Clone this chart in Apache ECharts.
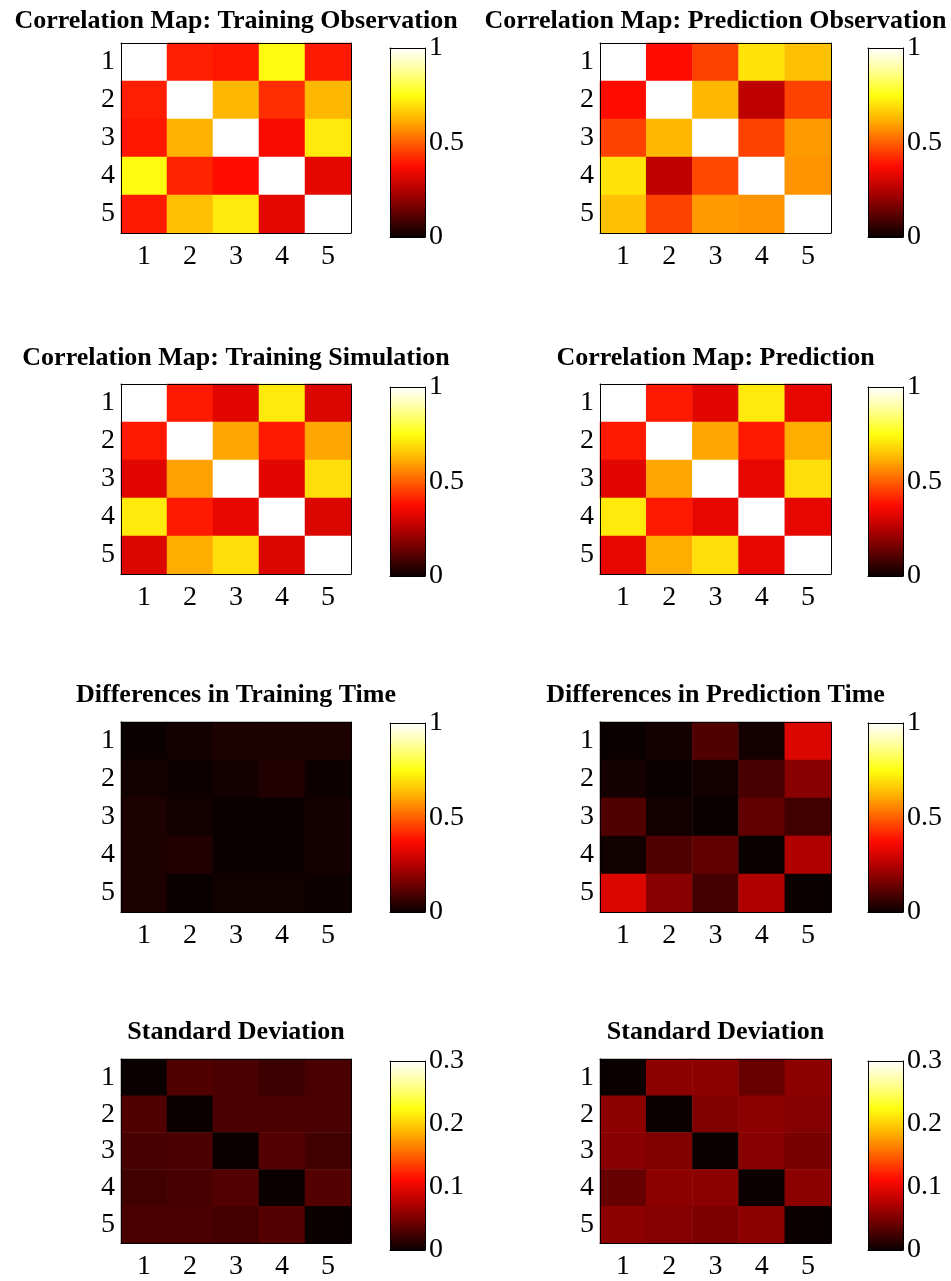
<!DOCTYPE html>
<html>
<head>
<meta charset="utf-8">
<script src="https://cdn.jsdelivr.net/npm/echarts@6/dist/echarts.min.js"></script>
<style>
  html, body { margin: 0; padding: 0; background: #ffffff; }
  #chart { width: 951px; height: 1281px; }
</style>
</head>
<body>
<div id="chart"></div>
<script>
// ---- data ----
const categories = ['1', '2', '3', '4', '5'];

const panelTitles = [
  'Correlation Map: Training Observation',
  'Correlation Map: Prediction Observation',
  'Correlation Map: Training Simulation',
  'Correlation Map: Prediction',
  'Differences in Training Time',
  'Differences in Prediction Time',
  'Standard Deviation',
  'Standard Deviation'
];

// colour-scale ranges and colorbar tick steps
const corrRange = [0, 1];
const corrTickStep = 0.5;
const stdRange = [0, 0.3];
const stdTickStep = 0.1;

// matrices, row = y label (top to bottom), column = x label
const trainObservation = [
  [1.000, 0.405, 0.390, 0.745, 0.395],
  [0.405, 1.000, 0.630, 0.425, 0.630],
  [0.390, 0.620, 1.000, 0.365, 0.715],
  [0.745, 0.410, 0.375, 1.000, 0.330],
  [0.395, 0.645, 0.715, 0.330, 1.000]
];
const predObservation = [
  [1.000, 0.375, 0.455, 0.705, 0.645],
  [0.375, 1.000, 0.630, 0.265, 0.455],
  [0.455, 0.630, 1.000, 0.455, 0.585],
  [0.705, 0.265, 0.465, 1.000, 0.575],
  [0.645, 0.455, 0.585, 0.575, 1.000]
];
const trainSimulation = [
  [1.000, 0.395, 0.325, 0.715, 0.315],
  [0.395, 1.000, 0.605, 0.395, 0.605],
  [0.325, 0.595, 1.000, 0.325, 0.695],
  [0.715, 0.395, 0.335, 1.000, 0.315],
  [0.315, 0.615, 0.695, 0.315, 1.000]
];
const predSimulation = [
  [1.000, 0.395, 0.325, 0.715, 0.335],
  [0.395, 1.000, 0.605, 0.395, 0.615],
  [0.325, 0.605, 1.000, 0.335, 0.695],
  [0.715, 0.395, 0.335, 1.000, 0.335],
  [0.335, 0.615, 0.695, 0.335, 1.000]
];
const diffTraining = [
  [0.000, 0.013, 0.027, 0.027, 0.027],
  [0.012, 0.002, 0.012, 0.031, 0.002],
  [0.026, 0.012, 0.000, 0.000, 0.013],
  [0.026, 0.031, 0.000, 0.000, 0.013],
  [0.026, 0.000, 0.009, 0.009, 0.002]
];
const diffPrediction = [
  [0.000, 0.013, 0.102, 0.013, 0.314],
  [0.013, 0.000, 0.010, 0.090, 0.184],
  [0.102, 0.010, 0.000, 0.125, 0.078],
  [0.008, 0.102, 0.125, 0.000, 0.243],
  [0.314, 0.184, 0.084, 0.243, 0.000]
];
const stdTraining = [
  [0.000, 0.031, 0.028, 0.022, 0.028],
  [0.031, 0.000, 0.028, 0.028, 0.028],
  [0.027, 0.028, 0.000, 0.032, 0.024],
  [0.024, 0.027, 0.032, 0.000, 0.032],
  [0.028, 0.028, 0.025, 0.032, 0.000]
];
const stdPrediction = [
  [0.000, 0.057, 0.057, 0.041, 0.057],
  [0.057, 0.000, 0.052, 0.057, 0.054],
  [0.055, 0.052, 0.000, 0.055, 0.048],
  [0.040, 0.057, 0.057, 0.000, 0.057],
  [0.057, 0.054, 0.050, 0.057, 0.000]
];

// ---- layout & style ----
const FONT = '"Liberation Serif", "Times New Roman", serif';
// "hot" colour map: black -> red -> yellow -> white
const hotColors = ['#0b0000', '#600000', '#b50000', '#ff0b00', '#ff6000',
                   '#ffb500', '#ffff10', '#ffff90', '#ffffff'];

const colLeft = [121, 600];
const plotW = [230, 231];
const rowTop = [43, 384, 722, 1059];
const plotH = 190;
const cbLeft = [390, 868];
const cbW = 35;
const cbTop = [48, 387, 723, 1061];
const cbH = 189;
const titleTop = [8, 345, 682, 1019];

const panels = [
  { m: trainObservation, range: corrRange, step: corrTickStep },
  { m: predObservation,  range: corrRange, step: corrTickStep },
  { m: trainSimulation,  range: corrRange, step: corrTickStep },
  { m: predSimulation,   range: corrRange, step: corrTickStep },
  { m: diffTraining,     range: corrRange, step: corrTickStep },
  { m: diffPrediction,   range: corrRange, step: corrTickStep },
  { m: stdTraining,      range: stdRange,  step: stdTickStep },
  { m: stdPrediction,    range: stdRange,  step: stdTickStep }
];

const grid = [], xAxis = [], yAxis = [], series = [], visualMap = [], title = [];

const tickStyle = { inside: true, length: 4, lineStyle: { color: '#000', width: 1.5 } };
const lineStyle = { show: true, onZero: false, lineStyle: { color: '#000', width: 1 } };
const labelStyle = { color: '#000', fontFamily: FONT, fontSize: 28 };

panels.forEach((p, i) => {
  const row = Math.floor(i / 2), col = i % 2;

  // heatmap grid with a full box of axes
  const g = grid.length;
  grid.push({ left: colLeft[col], top: rowTop[row], width: plotW[col], height: plotH });
  const xb = xAxis.length;
  xAxis.push({
    type: 'category', gridIndex: g, data: categories, position: 'bottom', z: 10,
    axisLine: lineStyle, axisTick: Object.assign({ alignWithLabel: true }, tickStyle),
    axisLabel: Object.assign({ margin: 10 }, labelStyle), splitLine: { show: false }
  });
  xAxis.push({
    type: 'category', gridIndex: g, data: categories, position: 'top', z: 10,
    axisLine: lineStyle, axisTick: Object.assign({ alignWithLabel: true }, tickStyle),
    axisLabel: { show: false }, splitLine: { show: false }
  });
  const yb = yAxis.length;
  yAxis.push({
    type: 'category', gridIndex: g, data: categories, inverse: true, position: 'left', z: 10,
    axisLine: lineStyle, axisTick: Object.assign({ alignWithLabel: true }, tickStyle),
    axisLabel: Object.assign({ margin: 6, padding: [4, 0, 0, 0] }, labelStyle),
    splitLine: { show: false }
  });
  yAxis.push({
    type: 'category', gridIndex: g, data: categories, inverse: true, position: 'right', z: 10,
    axisLine: lineStyle, axisTick: Object.assign({ alignWithLabel: true }, tickStyle),
    axisLabel: { show: false }, splitLine: { show: false }
  });

  const cells = [];
  p.m.forEach((r, ri) => r.forEach((v, ci) => cells.push([ci, ri, v])));
  const sIdx = series.length;
  series.push({
    type: 'heatmap', xAxisIndex: xb, yAxisIndex: yb, data: cells,
    itemStyle: { borderWidth: 0 },
    emphasis: { disabled: true }
  });
  visualMap.push({
    type: 'continuous', show: false, seriesIndex: sIdx,
    min: p.range[0], max: p.range[1], inRange: { color: hotColors }
  });

  // colorbar: one full-height bar filled with the colour map
  const cg = grid.length;
  grid.push({ left: cbLeft[col], top: cbTop[row], width: cbW, height: cbH });
  const cxb = xAxis.length;
  xAxis.push({
    type: 'category', gridIndex: cg, data: ['c'], position: 'bottom', z: 10,
    axisLine: lineStyle, axisTick: { show: false }, axisLabel: { show: false }
  });
  xAxis.push({
    type: 'category', gridIndex: cg, data: ['c'], position: 'top', z: 10,
    axisLine: lineStyle, axisTick: { show: false }, axisLabel: { show: false }
  });
  const cyb = yAxis.length;
  const valAxis = {
    type: 'value', gridIndex: cg, min: p.range[0], max: p.range[1], interval: p.step, z: 10,
    axisLine: lineStyle, axisTick: tickStyle, splitLine: { show: false }
  };
  yAxis.push(Object.assign({}, valAxis, { position: 'left', axisLabel: { show: false } }));
  yAxis.push(Object.assign({}, valAxis, {
    position: 'right', axisLabel: Object.assign({ margin: 4, padding: [3, 0, 0, 0] }, labelStyle)
  }));
  const stops = hotColors.map((c, k) => ({ offset: k / (hotColors.length - 1), color: c }));
  series.push({
    type: 'bar', xAxisIndex: cxb, yAxisIndex: cyb, data: [p.range[1]],
    barWidth: '100%', silent: true,
    itemStyle: { color: new echarts.graphic.LinearGradient(0, 1, 0, 0, stops) }
  });

  // panel title, centred over the heatmap
  title.push({
    text: panelTitles[i], left: colLeft[col] + plotW[col] / 2, textAlign: 'center',
    top: titleTop[row], padding: 0,
    textStyle: { fontFamily: FONT, fontSize: 26, fontWeight: 'bold', color: '#000' }
  });
});

const chart = echarts.init(document.getElementById('chart'), null, { renderer: 'canvas' });
chart.setOption({
  animation: false,
  backgroundColor: '#ffffff',
  title, grid, xAxis, yAxis, visualMap, series
});
</script>
</body>
</html>
